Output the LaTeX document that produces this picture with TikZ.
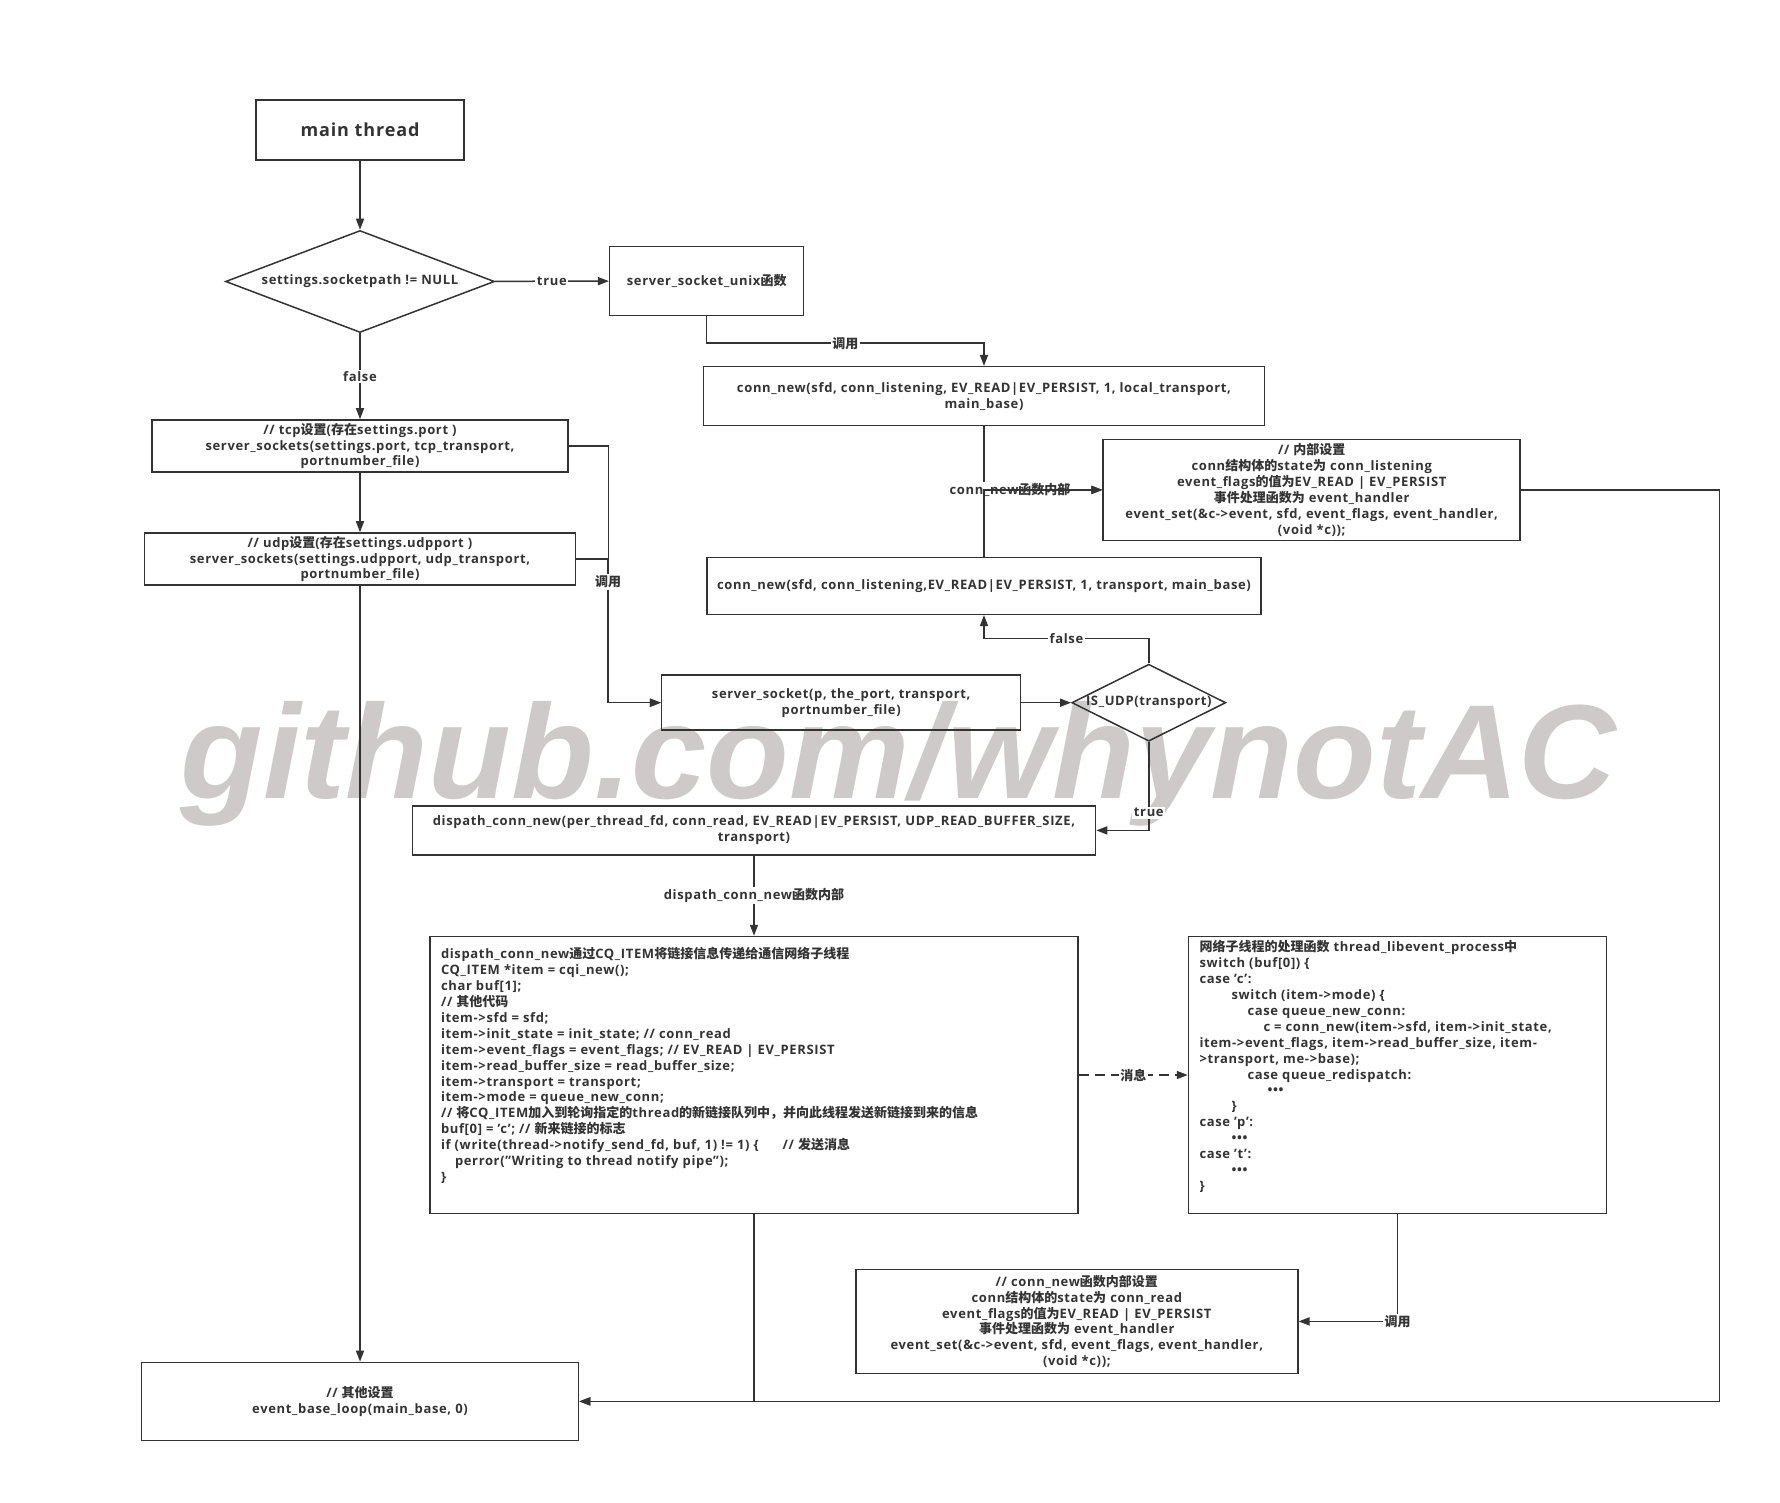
\documentclass[tikz,border=0pt]{standalone}
\usepackage{fontspec}
\setmainfont{Open Sans}[LetterSpace=5]
\newfontfamily\zhfont{Noto Sans CJK SC}
\newfontfamily\markfont{Liberation Sans}
\newcommand{\zh}[1]{{\zhfont #1}}
\newcommand{\boxfont}{\bfseries\fontsize{13}{15.9}\selectfont}
\usetikzlibrary{positioning}
\usetikzlibrary{arrows.meta,shapes.geometric}

\definecolor{linecol}{RGB}{51,51,51}
\definecolor{markcol}{RGB}{206,202,202}

\begin{document}
\begin{tikzpicture}[x=1pt,y=-1pt,>={Triangle[length=11pt,width=8pt]},
        color=linecol,line width=1.5pt,
        box/.style={draw,align=center,inner sep=3pt,font=\boxfont},
        decision/.style={diamond,draw,inner sep=0pt,font=\boxfont},
        lbl/.style={fill=white,inner sep=1.5pt,font=\boxfont},
        codetext/.style={align=left,anchor=north west,inner sep=0pt,font=\boxfont}]

\useasboundingbox (0,0) rectangle (1780,1503);

% watermark
\node[font=\markfont\bfseries\itshape\fontsize{134}{134}\selectfont,text=markcol,
      xscale=1.01,anchor=base,inner sep=0pt] (mark) at (898.5,798) {github.com/whynotAC};

% main thread column
\node[box,minimum width=208pt,minimum height=60pt,font=\bfseries\fontsize{18}{22}\selectfont] (main) at (360,130) {main thread};
\node[decision,aspect=2.6,minimum width=269pt,minimum height=102pt] (sockpath) at (360,281.5) {settings.socketpath != NULL};
\node[box,minimum width=416pt,minimum height=52pt] (tcp) at (360,446) {// tcp\zh{设置}(\zh{存在}settings.port )\\ server\_sockets(settings.port, tcp\_transport,\\ portnumber\_file)};
\node[box,minimum width=431pt,minimum height=51pt] (udp) at (360,559) {// udp\zh{设置}(\zh{存在}settings.udpport )\\ server\_sockets(settings.udpport, udp\_transport,\\ portnumber\_file)};
\node[box,minimum width=437pt,minimum height=78pt] (loop) at (360,1401.4) {// \zh{其他设置}\\ event\_base\_loop(main\_base, 0)};

% unix socket / conn_new
\node[box,minimum width=194pt,minimum height=69pt] (unix) at (706.7,281) {server\_socket\_unix\zh{函数}};
\node[box,minimum width=561pt,minimum height=59pt] (newlocal) at (984,396.2) {conn\_new(sfd, conn\_listening, EV\_READ|EV\_PERSIST, 1, local\_transport,\\ main\_base)};
\node[box,minimum width=417pt,minimum height=101pt] (inner) at (1311.7,489.9) {// \zh{内部设置}\\ conn\zh{结构体的}state\zh{为} conn\_listening\\ event\_flags\zh{的值为}EV\_READ | EV\_PERSIST\\ \zh{事件处理函数为} event\_handler\\ event\_set(\&c->event, sfd, event\_flags, event\_handler,\\ (void *c));};
\node[box,minimum width=554pt,minimum height=57pt] (newnet) at (984,585.8) {conn\_new(sfd, conn\_listening,EV\_READ|EV\_PERSIST, 1, transport, main\_base)};

% tcp / udp sockets
\node[box,minimum width=359pt,minimum height=55pt] (sock) at (841.2,702.7) {server\_socket(p, the\_port, transport,\\ portnumber\_file)};
\node[decision,aspect=2,minimum width=154pt,minimum height=77pt] (isudp) at (1148.8,702.7) {IS\_UDP(transport)};
\node[box,minimum width=683pt,minimum height=49pt] (dispatch) at (754,830.4) {dispath\_conn\_new(per\_thread\_fd, conn\_read, EV\_READ|EV\_PERSIST, UDP\_READ\_BUFFER\_SIZE,\\ transport)};

% dispatch to worker thread
\node[box,minimum width=648pt,minimum height=277pt] (queue) at (754,1075) {};
\node[codetext] (queuetext) at ([shift={(11,11)}]queue.north west) {%
dispath\_conn\_new\zh{通过}CQ\_ITEM\zh{将链接信息传递给通信网络子线程}\\
CQ\_ITEM *item = cqi\_new();\\
char buf[1];\\
// \zh{其他代码}\\
item->sfd = sfd;\\
item->init\_state = init\_state; // conn\_read\\
item->event\_flags = event\_flags; // EV\_READ | EV\_PERSIST\\
item->read\_buffer\_size = read\_buffer\_size;\\
item->transport = transport;\\
item->mode = queue\_new\_conn;\\
// \zh{将}CQ\_ITEM\zh{加入到轮询指定的}thread\zh{的新链接队列中，并向此线程发送新链接到来的信息}\\
buf[0] = 'c'; // \zh{新来链接的标志}\\
if (write(thread->notify\_send\_fd, buf, 1) != 1) \{\hspace{24pt}// \zh{发送消息}\\
\hspace{14pt}perror("Writing to thread notify pipe");\\
\}};
\node[box,minimum width=418pt,minimum height=277pt] (worker) at (1397.5,1075) {};
\node[codetext] (workertext) at ([shift={(11,4)}]worker.north west) {%
\zh{网络子线程的处理函数} thread\_libevent\_process\zh{中}\\
switch (buf[0]) \{\\
case 'c':\\
\hspace{32pt}switch (item->mode) \{\\
\hspace{48pt}case queue\_new\_conn:\\
\hspace{64pt}c = conn\_new(item->sfd, item->init\_state,\\
item->event\_flags, item->read\_buffer\_size, item-\\
>transport, me->base);\\
\hspace{48pt}case queue\_redispatch:\\
\hspace{68pt}\textbullet\textbullet\textbullet\\
\hspace{32pt}\}\\
case 'p':\\
\hspace{32pt}\textbullet\textbullet\textbullet\\
case 't':\\
\hspace{32pt}\textbullet\textbullet\textbullet\\
\}};
\node[box,minimum width=442pt,minimum height=104pt] (connset) at (1076.8,1321.4) {// conn\_new\zh{函数内部设置}\\ conn\zh{结构体的}state\zh{为} conn\_read\\ event\_flags\zh{的值为}EV\_READ | EV\_PERSIST\\ \zh{事件处理函数为} event\_handler\\ event\_set(\&c->event, sfd, event\_flags, event\_handler,\\ (void *c));};

% connectors
\draw[->] (main) -- (sockpath);
\draw[->] (sockpath) -- node[lbl] {true} (unix);
\draw[->] (sockpath) -- node[lbl] {false} (tcp);
\draw[->] (tcp) -- (udp);
\draw[->] (udp) -- (loop);
\draw[->] (unix.south) -- ++(0,27) -| node[lbl,pos=0.25] {\zh{调用}} (newlocal.north);
\draw[->] (newlocal.south) |- node[lbl,pos=0.61] {conn\_new\zh{函数内部}} (inner.west);
\draw[->] (newnet.north) |- (inner.west);
\draw[->] (inner.east) -- ++(198.7,0) |- (loop.east);
\draw[->] (tcp.east) -- ++(39.7,0) |- (sock.west);
\draw[->] (udp.east) -- ++(31.8,0) |- node[lbl,pos=0.08] {\zh{调用}} (sock.west);
\draw[->] (sock) -- (isudp);
\draw[->] (isudp.north) -- ++(0,-25) -| node[lbl,pos=0.25] {false} (newnet.south);
\draw[->] (isudp.south) |- node[lbl,pos=0.4] {true} (dispatch.east);
\draw[->] (dispatch) -- node[lbl] {dispath\_conn\_new\zh{函数内部}} (queue);
\draw[->] (queue.south) |- (loop.east);
\draw[->,dash pattern=on 10pt off 6pt] (queue.east) -- node[lbl] {\zh{消息}} (worker.west);
\draw[->] (worker.south) |- node[lbl] {\zh{调用}} (connset.east);

\end{tikzpicture}
\end{document}
